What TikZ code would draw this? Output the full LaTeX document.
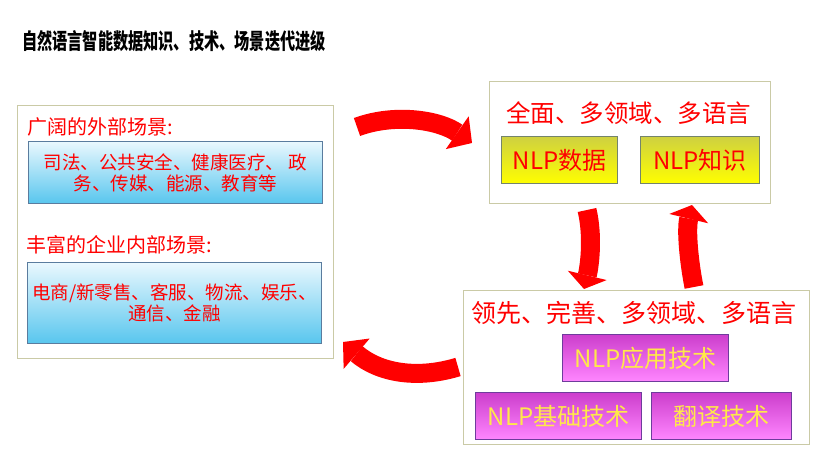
\documentclass[tikz,border=0pt]{standalone}
\usepackage{fontspec}
\setmainfont{Noto Sans CJK SC}
\usetikzlibrary{arrows.meta}
\definecolor{tred}{HTML}{FF0000}
\definecolor{outerbd}{HTML}{CACAA6}
\definecolor{blueTop}{HTML}{EAF8FE}
\definecolor{blueBot}{HTML}{58C6EE}
\definecolor{bluebd}{HTML}{5A7C9E}
\definecolor{yelTop}{HTML}{CED040}
\definecolor{yelBot}{HTML}{FFFF00}
\definecolor{yelbd}{HTML}{74846C}
\definecolor{magTop}{HTML}{CC3ECC}
\definecolor{magBot}{HTML}{FF86FF}
\definecolor{magbd}{HTML}{6E3C9C}
\definecolor{goldtext}{HTML}{FFE84A}
\begin{document}
\begin{tikzpicture}[x=1pt,y=-1pt,
  outerbox/.style={draw=outerbd, line width=1.2pt, fill=white, inner sep=0pt, anchor=north west},
  bluebox/.style={draw=bluebd, line width=1pt, top color=blueTop, bottom color=blueBot,
     text=tred, font=\fontsize{18.5}{21}\selectfont, align=center, inner sep=0pt, anchor=north west},
  yelbox/.style={draw=yelbd, line width=1pt, top color=yelTop, bottom color=yelBot,
     text=tred, font=\fontsize{24}{28}\selectfont, inner sep=0pt, anchor=north west, minimum height=47pt},
  magbox/.style={draw=magbd, line width=1pt, top color=magTop, bottom color=magBot,
     text=goldtext, font=\fontsize{24}{28}\selectfont, inner sep=0pt, anchor=north west, minimum height=47pt},
  headtext/.style={text=tred, inner sep=0pt, anchor=west},
  bigarrow/.style={draw=tred, line width=19pt, -{Triangle[width=40pt,length=18pt,line width=0pt]}},
  midarrow/.style={draw=tred, line width=19pt, -{Triangle[width=40pt,length=14pt,line width=0pt]}}
]
\useasboundingbox[fill=white] (0,0) rectangle (830,462);

% title
\node[anchor=west, inner sep=0pt, font=\fontsize{22}{24}\selectfont\bfseries] (title) at (22,41) {\scalebox{0.69}[1]{自然语言智能数据知识、技术、场景迭代进级}};

% left panel
\node[outerbox, minimum width=316pt, minimum height=253pt] (left) at (17,105) {};
\node[headtext, font=\fontsize{20}{24}\selectfont] (lh1) at (27,127) {广阔的外部场景:};
\node[bluebox, minimum width=294pt, minimum height=62pt] (b1) at (28,141) {司法、公共安全、健康医疗、 政\\务、传媒、能源、教育等};
\node[headtext, font=\fontsize{20}{24}\selectfont] (lh2) at (26,245) {丰富的企业内部场景:};
\node[bluebox, minimum width=294pt, minimum height=81pt] (b2) at (27,262) {电商/新零售、客服、物流、娱乐、\\通信、金融};

% top right panel
\node[outerbox, minimum width=281pt, minimum height=122pt] (tr) at (489,81) {};
\node[headtext, font=\fontsize{24.5}{28}\selectfont] (trh) at (506,113) {全面、多领域、多语言};
\node[yelbox, minimum width=116pt] (y1) at (501,136) {NLP数据};
\node[yelbox, minimum width=119pt] (y2) at (640,136) {NLP知识};

% bottom right panel
\node[outerbox, minimum width=346pt, minimum height=154pt] (br) at (463,290) {};
\node[headtext, font=\fontsize{25}{28}\selectfont] (brh) at (471,313) {领先、完善、多领域、多语言};
\node[magbox, minimum width=166pt] (m1) at (562,334) {NLP应用技术};
\node[magbox, minimum width=166pt] (m2) at (475,392) {NLP基础技术};
\node[magbox, minimum width=140pt] (m3) at (651,392) {翻译技术};

% arrow end points
\coordinate (a1s) at (357,127);
\coordinate (a1e) at (472,143);
\coordinate (a2s) at (587,210);
\coordinate (a2e) at (584,289);
\coordinate (a3s) at (694,287);
\coordinate (a3e) at (692,205);
\coordinate (a4s) at (458,367);
\coordinate (a4e) at (343,342);

\draw[bigarrow] (a1s) .. controls (395,113) and (439,120) .. (a1e);
\draw[midarrow] (a2s) .. controls (593,235) and (590,264) .. (a2e);
\draw[midarrow] (a3s) .. controls (689,262) and (686,230) .. (a3e);
\draw[bigarrow] (a4s) .. controls (415,380) and (378,372) .. (a4e);
\end{tikzpicture}
\end{document}
